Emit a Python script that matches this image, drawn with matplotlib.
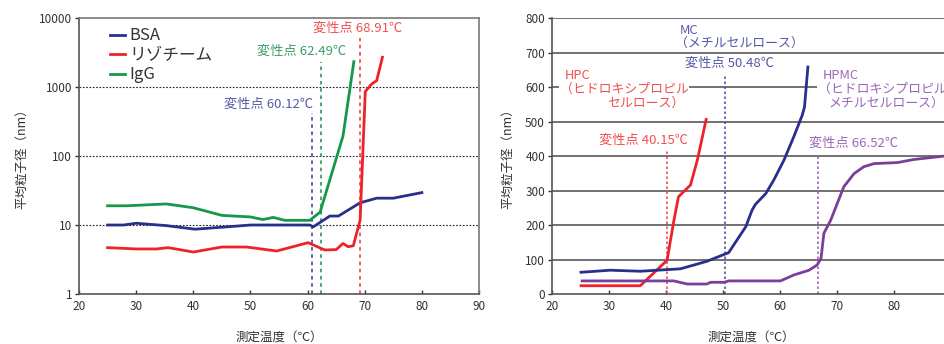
import numpy as np
import matplotlib
matplotlib.use("Agg")
import matplotlib.pyplot as plt

plt.rcParams['font.family'] = ['Noto Sans CJK JP', 'DejaVu Sans']

# ---- left panel: proteins (log scale) ----
bsa_t = [25, 27.8, 30, 35.3, 40.3, 45.8, 50, 60.4, 61, 63.9, 65.4, 69.2, 72.1, 75, 80]
bsa_d = [10, 10, 10.6, 9.8, 8.7, 9.4, 10, 10, 9.4, 13.5, 13.5, 21, 24.5, 24.5, 29.5]

lys_t = [25, 30, 33.6, 35.6, 40, 45, 49.3, 54.6, 60.1, 63, 65, 66.2, 67.1, 68, 69.2, 70.1, 71.2, 72.1, 73.1]
lys_d = [4.7, 4.5, 4.5, 4.7, 4.06, 4.8, 4.8, 4.2, 5.55, 4.35, 4.4, 5.4, 4.85, 5.0, 11.8, 860, 1100, 1240, 2700]

igg_t = [25, 28.3, 35.3, 40, 45, 50, 52.2, 54, 56, 60.4, 62.2, 66.2, 68.1]
igg_d = [19, 19, 20.2, 17.8, 13.8, 13.1, 12, 12.9, 11.7, 11.7, 15.4, 195, 2330]

left_names = ['BSA', 'リゾチーム', 'IgG']
left_denat = ['60.12', '62.49', '68.91']
left_vline_x = [60.8, 62.3, 69.1]
left_vline_top = [420, 2300, 5100]

# ---- right panel: cellulose derivatives ----
hpc_t = [25.1, 35.5, 40.2, 41.4, 42.2, 44.3, 45.5, 47.05]
hpc_d = [24, 24, 98, 214, 282, 316, 388, 506]

mc_t = [25.1, 30.2, 35.5, 42.5, 44.9, 47.2, 51, 54, 55.1, 55.7, 57.5, 58.9, 60.7, 62.4, 63.9, 64.3, 64.9]
mc_d = [63, 69, 66, 73, 84, 95, 120, 195, 243, 260, 291, 330, 388, 455, 518, 542, 658]

hpmc_t = [25.3, 41.4, 43.7, 47.2, 47.8, 50.2, 51, 60.1, 62.4, 65.1, 66.5, 67.2, 67.7, 68.9,
          71.2, 73, 74.7, 76.5, 80.6, 83.5, 88.9, 90]
hpmc_d = [38, 38, 29, 29, 34, 34, 38, 38, 55, 69, 84, 103, 176, 214,
          311, 349, 369, 378, 381, 390, 400, 401]

right_denat = ['40.15', '50.48', '66.52']
right_vline_x = [40.2, 50.4, 66.7]
right_vline_top = [417, 639, 407]

c_blue = '#2a2e8c'
c_red = '#ee2229'
c_green = '#14994a'
c_purple = '#7b3f9a'
lbl_blue = '#5558a8'
lbl_red = '#f05050'
lbl_green = '#3f9c6c'
lbl_purple = '#9a68b8'

fig = plt.figure(figsize=(9.44, 3.44), dpi=100)
ax1 = fig.add_axes([0.0837, 0.1453, 0.4237, 0.8023])
ax2 = fig.add_axes([0.5847, 0.1453, 0.4227, 0.8023])

lw = 2.0
ax1.plot(bsa_t, bsa_d, color=c_blue, lw=lw, label=left_names[0])
ax1.plot(lys_t, lys_d, color=c_red, lw=lw, label=left_names[1])
ax1.plot(igg_t, igg_d, color=c_green, lw=lw, label=left_names[2])
ax1.set_yscale('log')
ax1.set_xlim(20, 90)
ax1.set_ylim(1, 10000)
ax1.set_xticks(range(20, 91, 10))
ax1.set_yticks([1, 10, 100, 1000, 10000])
ax1.set_yticklabels(['1', '10', '100', '1000', '10000'])
ax1.minorticks_off()
for v in [10, 100, 1000]:
    ax1.axhline(v, color='#222222', lw=0.8, ls=(0, (1.5, 1.5)), zorder=0)

vcols = [lbl_blue, lbl_green, lbl_red]
for x, top, c in zip(left_vline_x, left_vline_top, vcols):
    ax1.plot([x, x], [1, top], color=c, lw=1.3, ls=(0, (2, 2)), zorder=1)
ax1.text(60.9, 560, '変性点 ' + left_denat[0] + '℃', color=lbl_blue, fontsize=9.5, ha='right', va='center')
ax1.text(59.0, 3330, '変性点 ' + left_denat[1] + '℃', color=lbl_green, fontsize=9.5, ha='center', va='center')
ax1.text(68.7, 7100, '変性点 ' + left_denat[2] + '℃', color=lbl_red, fontsize=9.5, ha='center', va='center')

leg = ax1.legend(loc='upper left', bbox_to_anchor=(0.06, 0.99), frameon=False, fontsize=12,
                 handlelength=0.9, handletextpad=0.3, labelspacing=0.15, borderaxespad=0)
for t in leg.get_texts():
    t.set_color('#333333')

for s in ['left', 'bottom']:
    ax1.spines[s].set_color('#555555')
    ax1.spines[s].set_linewidth(1.2)
for s in ['top', 'right']:
    ax1.spines[s].set_color('#777777')
    ax1.spines[s].set_linewidth(1.2)

# right panel
ax2.plot(hpc_t, hpc_d, color=c_red, lw=lw, zorder=3)
ax2.plot(mc_t, mc_d, color=c_blue, lw=lw, zorder=3)
ax2.plot(hpmc_t, hpmc_d, color=c_purple, lw=lw, zorder=3)
ax2.set_xlim(20, 90)
ax2.set_ylim(0, 800)
ax2.set_xticks(range(20, 81, 10))
ax2.set_yticks(range(0, 801, 100))
for v in range(100, 801, 100):
    ax2.axhline(v, color='#4a4a4a', lw=1.1, zorder=0)

vcols2 = [lbl_red, lbl_blue, lbl_purple]
for x, top, c in zip(right_vline_x, right_vline_top, vcols2):
    ax2.plot([x, x], [0, top], color=c, lw=1.2, ls=(0, (1.5, 1.5)), zorder=2)

bb = dict(facecolor='white', edgecolor='none', pad=0.5)
nfs = 9.3
ax2.text(42.4, 764, 'MC', color=lbl_blue, fontsize=nfs, ha='left', va='center', bbox=bb)
ax2.text(41.5, 727, '（メチルセルロース）', color=lbl_blue, fontsize=nfs, ha='left', va='center', bbox=bb)
ax2.text(51.2, 669, '変性点 ' + right_denat[1] + '℃', color=lbl_blue, fontsize=9.5, ha='center', va='center')
ax2.text(22.3, 634, 'HPC', color=lbl_red, fontsize=nfs, ha='left', va='center', bbox=bb)
ax2.text(21.4, 594, '（ヒドロキシプロピル', color=lbl_red, fontsize=nfs, ha='left', va='center', bbox=bb)
ax2.text(43.3, 553, 'セルロース）', color=lbl_red, fontsize=nfs, ha='right', va='center', bbox=bb)
ax2.text(36.0, 446, '変性点 ' + right_denat[0] + '℃', color=lbl_red, fontsize=9.5, ha='center', va='center')
ax2.text(67.5, 634, 'HPMC', color=lbl_purple, fontsize=nfs, ha='left', va='center', bbox=bb)
ax2.text(66.6, 594, '（ヒドロキシプロピル', color=lbl_purple, fontsize=nfs, ha='left', va='center', bbox=bb)
ax2.text(88.8, 553, 'メチルセルロース）', color=lbl_purple, fontsize=nfs, ha='right', va='center', bbox=bb)
ax2.text(72.9, 437, '変性点 ' + right_denat[2] + '℃', color=lbl_purple, fontsize=9.5, ha='center', va='center')

for s in ['top', 'right']:
    ax2.spines[s].set_visible(False)
for s in ['left', 'bottom']:
    ax2.spines[s].set_color('#555555')
    ax2.spines[s].set_linewidth(1.2)

for ax in (ax1, ax2):
    ax.tick_params(axis='both', labelsize=8.5, colors='#333333', length=3, width=1, pad=2)
    ax.tick_params(axis='x', direction='in', pad=4)
    ax.set_xlabel('測定温度（℃）', fontsize=9, color='#333333', labelpad=14)
    ax.set_ylabel('平均粒子径（nm）', fontsize=9, color='#333333', labelpad=8)

fig.savefig('out.png', dpi=100)
